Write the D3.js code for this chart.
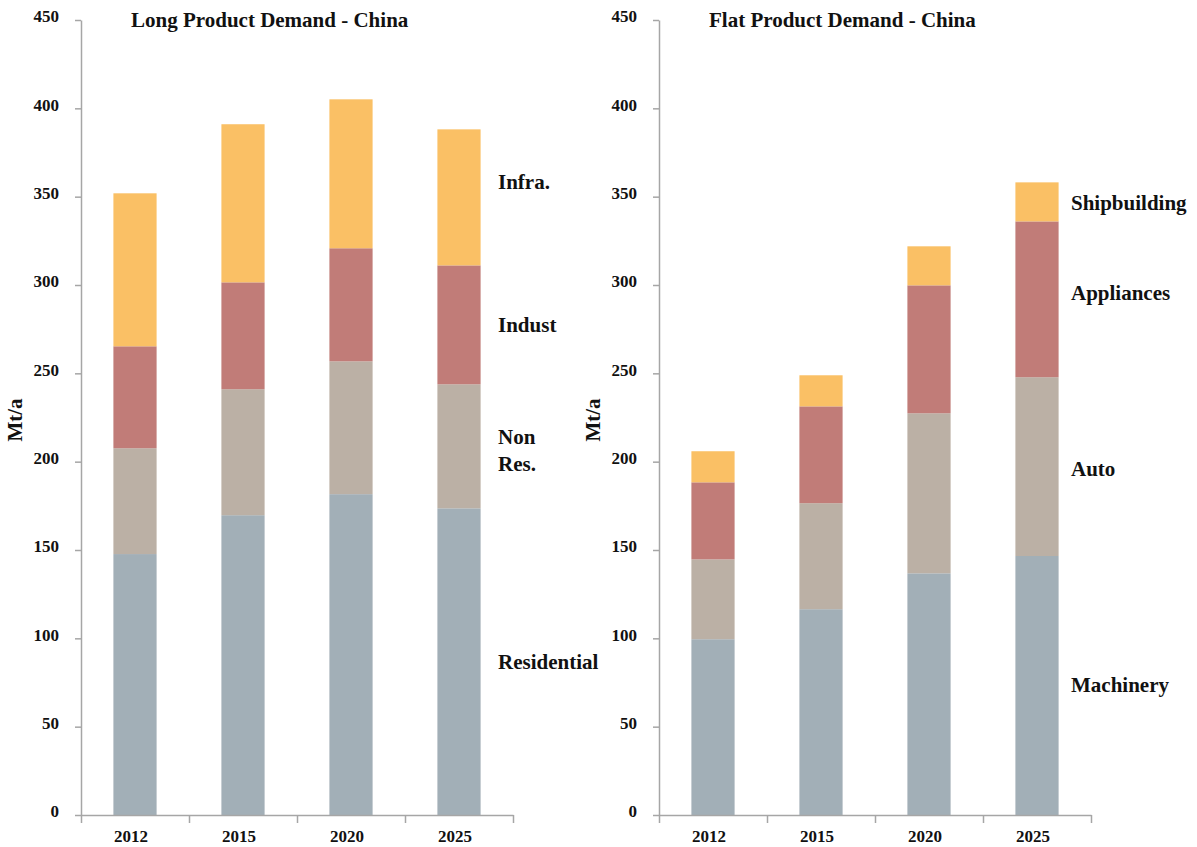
<!DOCTYPE html>
<html>
<head>
<meta charset="utf-8">
<script src="https://cdn.jsdelivr.net/npm/d3@7"></script>
<style>
  body { margin: 0; background: #fff; }
  text { font-family: "Liberation Serif", "Times New Roman", serif; font-weight: bold; }
</style>
</head>
<body>
<div id="canvas"></div>
<script>
"use strict"

/* Data (Mt/a) */
let years = ["2012", "2015", "2020", "2025"];
let yTicks = [0, 50, 100, 150, 200, 250, 300, 350, 400, 450];

let longSeries = ["Residential", "Non Res.", "Indust", "Infra."];
let longResidential = [147.7, 169.7, 181.6, 173.6];
let longNonRes = [59.9, 71.3, 75.2, 70.2];
let longIndust = [57.7, 60.5, 64.0, 67.3];
let longInfra = [86.6, 89.5, 84.3, 77.0];

let flatSeries = ["Machinery", "Auto", "Appliances", "Shipbuilding"];
let flatMachinery = [99.5, 116.5, 136.8, 146.6];
let flatAuto = [45.2, 60.0, 90.6, 101.2];
let flatAppliances = [43.6, 54.8, 72.4, 88.2];
let flatShipbuilding = [17.6, 17.6, 22.1, 22.1];

/* Drawing config */
let svgWidth = 1197;
let svgHeight = 847;
let colors = ["#a2afb7", "#bbb0a5", "#c17c78", "#fac065"];
let axisColor = "#a6a6a6";

let svg = d3.select("#canvas")
    .append("svg")
    .attr("width", svgWidth)
    .attr("height", svgHeight);

svg.append("rect")
    .attr("width", svgWidth)
    .attr("height", svgHeight)
    .attr("fill", "white");

// build rows for d3.stack
function makeRows(seriesNames, arrays) {
    return years.map(function(y, i) {
        let row = { year: y };
        seriesNames.forEach(function(s, j) { row[s] = arrays[j][i]; });
        return row;
    });
}

function drawPanel(opts) {
    let rows = makeRows(opts.series, opts.values);
    let stack = d3.stack().keys(opts.series);
    let layers = stack(rows);

    let yScale = d3.scaleLinear()
        .domain([0, 450])
        .range([815, 20]);

    let xScale = d3.scaleBand()
        .domain(years)
        .range([opts.left, opts.right])
        .paddingInner(0.6)
        .paddingOuter(0.3);

    let g = svg.append("g");

    // bars
    g.selectAll("g.layer")
        .data(layers)
        .join("g")
        .attr("class", "layer")
        .attr("fill", function(d, i) { return colors[i]; })
        .selectAll("rect")
        .data(function(d) { return d; })
        .join("rect")
        .attr("x", function(d) { return xScale(d.data.year); })
        .attr("width", xScale.bandwidth())
        .attr("y", function(d) { return yScale(d[1]); })
        .attr("height", function(d) { return yScale(d[0]) - yScale(d[1]); });

    // y axis
    let yAxis = d3.axisLeft(yScale)
        .tickValues(yTicks)
        .tickSize(6)
        .tickSizeOuter(0)
        .tickPadding(16);
    let yg = g.append("g")
        .attr("transform", "translate(" + opts.left + ",0)")
        .call(yAxis);
    yg.select(".domain").attr("stroke", axisColor).attr("stroke-width", 1.5);
    yg.selectAll(".tick line").attr("stroke", axisColor).attr("stroke-width", 1.5);
    yg.selectAll(".tick text")
        .attr("fill", "#111")
        .attr("dy", "0.1em")
        .style("font-size", "17px");

    // x axis: ticks at the category boundaries
    let edgeScale = d3.scaleLinear()
        .domain([0, years.length])
        .range([opts.left, opts.right]);
    let xAxis = d3.axisBottom(edgeScale)
        .tickValues(d3.range(years.length + 1))
        .tickFormat("")
        .tickSize(8)
        .tickSizeOuter(0);
    let xg = g.append("g")
        .attr("transform", "translate(0,815)")
        .call(xAxis);
    xg.select(".domain").attr("stroke", axisColor).attr("stroke-width", 1.5);
    xg.selectAll(".tick line").attr("stroke", axisColor).attr("stroke-width", 1.5);

    g.selectAll("text.year")
        .data(years)
        .join("text")
        .attr("class", "year")
        .attr("x", function(d) { return xScale(d) + xScale.bandwidth() / 2 - 4; })
        .attr("y", 842)
        .attr("text-anchor", "middle")
        .style("font-size", "17px")
        .attr("fill", "#111")
        .text(function(d) { return d; });

    // title
    g.append("text")
        .attr("x", opts.titleX)
        .attr("y", 27)
        .style("font-size", "21px")
        .attr("fill", "#111")
        .text(opts.title);

    // y label
    g.append("text")
        .attr("transform", "translate(" + (opts.left - 59) + ",420) rotate(-90)")
        .attr("text-anchor", "middle")
        .style("font-size", "21px")
        .attr("fill", "#111")
        .text("Mt/a");

    // series labels at the right
    opts.labels.forEach(function(lab) {
        let t = g.append("text")
            .attr("x", opts.labelX)
            .attr("y", lab.y)
            .style("font-size", "21px")
            .attr("fill", "#111");
        lab.lines.forEach(function(line, i) {
            t.append("tspan")
                .attr("x", opts.labelX)
                .attr("dy", i === 0 ? 0 : 27)
                .text(line);
        });
    });
}

drawPanel({
    left: 81,
    right: 513,
    title: "Long Product Demand - China",
    titleX: 131,
    labelX: 498,
    series: longSeries,
    values: [longResidential, longNonRes, longIndust, longInfra],
    labels: [
        { y: 189, lines: ["Infra."] },
        { y: 332, lines: ["Indust"] },
        { y: 444, lines: ["Non", "Res."] },
        { y: 669, lines: ["Residential"] }
    ]
});

drawPanel({
    left: 659,
    right: 1091,
    title: "Flat Product Demand - China",
    titleX: 709,
    labelX: 1071,
    series: flatSeries,
    values: [flatMachinery, flatAuto, flatAppliances, flatShipbuilding],
    labels: [
        { y: 210, lines: ["Shipbuilding"] },
        { y: 300, lines: ["Appliances"] },
        { y: 476, lines: ["Auto"] },
        { y: 692, lines: ["Machinery"] }
    ]
});
</script>
</body>
</html>
